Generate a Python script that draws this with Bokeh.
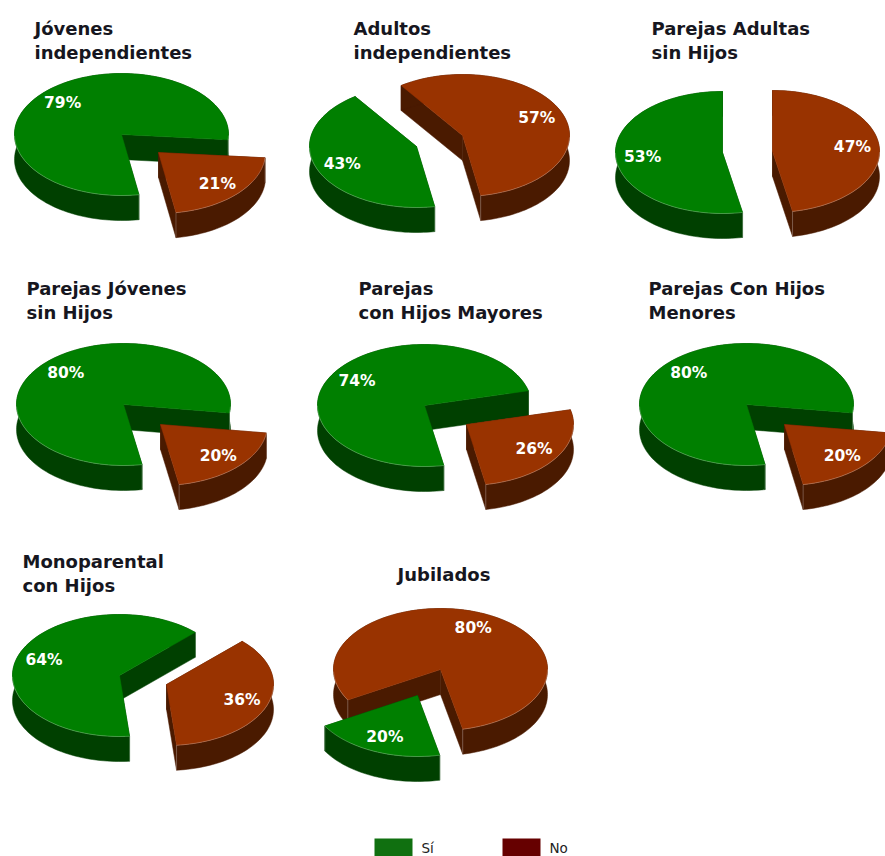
import math
from bokeh.plotting import figure
from bokeh.models import Range1d
from bokeh.core.properties import value
from bokeh.embed import file_html
from bokeh.resources import INLINE

# ---- data -------------------------------------------------------------
groups = ["Jóvenes independientes", "Adultos independientes", "Parejas Adultas sin Hijos",
          "Parejas Jóvenes sin Hijos", "Parejas con Hijos Mayores", "Parejas Con Hijos Menores",
          "Monoparental con Hijos", "Jubilados"]
si_values = [79, 43, 53, 80, 74, 80, 64, 20]
no_values = [21, 57, 47, 20, 26, 20, 36, 80]
legend_labels = ["Sí", "No"]

# ---- layout of each small pie -----------------------------------------
title_lines = [["Jóvenes", "independientes"], ["Adultos", "independientes"],
               ["Parejas Adultas", "sin Hijos"], ["Parejas Jóvenes", "sin Hijos"],
               ["Parejas", "con Hijos Mayores"], ["Parejas Con Hijos", "Menores"],
               ["Monoparental", "con Hijos"], ["Jubilados"]]
title_pos = [(34, 28), (353, 28), (651, 28), (26, 288), (358, 288), (648, 288), (22, 561), (397, 574)]
start_angles = [-5, 125, 90, -8, 14, -8, 45, 210]
si_apex = [(121, 134), (416, 146), (722, 152), (123, 404), (424, 405), (746, 404), (119, 675), (417, 695)]
no_apex = [(158, 152), (462, 135), (772, 151), (160, 424), (466, 424), (784, 424), (166, 684), (440, 669)]
RX, RY, DEPTH = 107, 61, 25
LABEL_K = 0.75
GREEN, GREEN_D = "#007f00", "#004000"
BROWN, BROWN_D = "#993300", "#4a1a00"

p = figure(width=885, height=856, x_range=Range1d(0, 885), y_range=Range1d(856, 0),
           output_backend="svg", toolbar_location=None, min_border=0,
           outline_line_color=None, background_fill_color="white")
p.axis.visible = False
p.grid.visible = False


def rim(ax, ay, a0, a1):
    n = max(2, int(abs(a1 - a0) / 2))
    out = []
    for i in range(n + 1):
        t = math.radians(a0 + (a1 - a0) * i / n)
        out.append((ax + RX * math.cos(t), ay - RY * math.sin(t), math.sin(t)))
    return out


def slice3d(apex, a0, a1, top, dark):
    ax, ay = apex
    arc = rim(ax, ay, a0, a1)
    xs, ys = [], []
    # radial walls
    for c in (arc[0], arc[-1]):
        xs.append([ax, c[0], c[0], ax])
        ys.append([ay, c[1], c[1] + DEPTH, ay + DEPTH])
    # outer wall
    xs.append([q[0] for q in arc] + [q[0] for q in reversed(arc)])
    ys.append([q[1] for q in arc] + [q[1] + DEPTH for q in reversed(arc)])
    p.patches(xs, ys, fill_color=dark, line_color=dark, line_width=0.5)
    p.patch([ax] + [q[0] for q in arc], [ay] + [q[1] for q in arc],
            fill_color=top, line_color=top, line_width=0.5)
    # faint highlight along the front rim and at the slice corners
    hx, hy = [], []
    run = []
    for q in arc + [(0, 0, 1)]:
        if q[2] < 0:
            run.append(q)
        else:
            if len(run) > 1:
                hx.append([r[0] for r in run]); hy.append([r[1] for r in run])
            run = []
    for c in (arc[0], arc[-1]):
        if c[2] < 0:
            hx.append([c[0], c[0]]); hy.append([c[1], c[1] + DEPTH])
    if hx:
        p.multi_line(hx, hy, line_color="white", line_alpha=0.3, line_width=0.8)
    mid = math.radians((a0 + a1) / 2)
    return ax + LABEL_K * RX * math.cos(mid), ay - LABEL_K * RY * math.sin(mid)


lx, ly, lt = [], [], []
for i in range(len(groups)):
    a0 = start_angles[i]
    a1 = a0 + si_values[i] * 3.6
    a2 = a1 + no_values[i] * 3.6
    # the slice nearer to the viewer is painted last
    order = [(si_apex[i], a0, a1, GREEN, GREEN_D, si_values[i]),
             (no_apex[i], a1, a2, BROWN, BROWN_D, no_values[i])]
    order.sort(key=lambda o: o[0][1])
    for apex, b0, b1, c, d, v in order:
        x, y = slice3d(apex, b0, b1, c, d)
        lx.append(x); ly.append(y); lt.append(f"{v}%")

p.text(lx, ly, lt, text_color="white", text_font=value("DejaVu Sans"), text_font_style="bold",
       text_font_size="15.5px", text_align="center", text_baseline="middle")

tx, ty, tt = [], [], []
for lines, (x, y) in zip(title_lines, title_pos):
    for k, s in enumerate(lines):
        tx.append(x); ty.append(y + 23.5 * k); tt.append(s)
p.text(tx, ty, tt, text_color="#161620", text_font=value("DejaVu Sans"), text_font_style="bold",
       text_font_size="18px", text_align="left", text_baseline="middle")

# legend
p.quad(left=[374, 502], right=[412, 540], top=[838, 838], bottom=[856, 856],
       fill_color=["#107010", "#660000"], line_color=None)
p.text([421, 549], [847, 847], legend_labels, text_color="#222222", text_font=value("DejaVu Sans"),
       text_font_size="13.5px", text_align="left", text_baseline="middle")

open("out.html", "w").write(file_html(p, INLINE))
